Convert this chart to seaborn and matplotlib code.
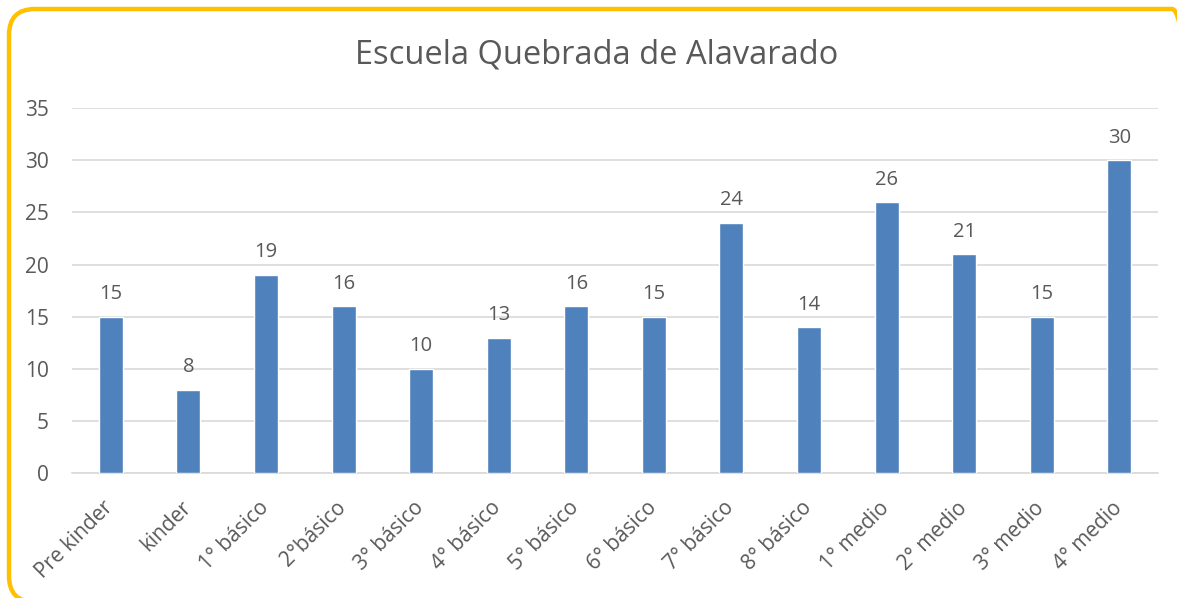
import matplotlib
matplotlib.use("Agg")
import pandas as pd
import seaborn as sns
from matplotlib import pyplot as plt
from matplotlib.patches import FancyBboxPatch
from matplotlib.transforms import IdentityTransform, ScaledTranslation

# chart data
grades = ['Pre kinder', 'kinder', '1° básico', '2°básico', '3° básico', '4° básico',
          '5° básico', '6° básico', '7° básico', '8° básico', '1° medio', '2° medio',
          '3° medio', '4° medio']
students = [15, 8, 19, 16, 10, 13, 16, 15, 24, 14, 26, 21, 15, 30]
yticks = [0, 5, 10, 15, 20, 25, 30, 35]

df = pd.DataFrame({'grade': grades, 'students': students})

sns.set_theme(style='white')
plt.rcParams['font.family'] = ['Open Sans', 'DejaVu Sans']

TEXT = '#595959'
fig = plt.figure(figsize=(11.77, 5.98), dpi=100)
ax = fig.add_axes([0.0612, 0.209, 0.9228, 0.610])

sns.barplot(data=df, x='grade', y='students', color='#4F81BD', width=0.31,
            saturation=1, ax=ax, zorder=3)

for i, v in enumerate(students):
    ax.text(i, v + 1.2, str(v), ha='center', va='bottom', fontsize=14.5, color=TEXT)

ax.set_ylim(0, 35)
ax.set_xlim(-0.5, len(grades) - 0.5)
ax.set_yticks(yticks)
ax.yaxis.grid(True, color='#D9D9D9', linewidth=1.2, zorder=0)
ax.tick_params(axis='y', length=0, labelsize=15, labelcolor=TEXT, pad=16.5)
ax.tick_params(axis='x', length=0, labelsize=15, labelcolor=TEXT, pad=6)
# shift the rotated labels a bit left and down, like the original
shift = ScaledTranslation(-8 / 100, -16 / 100, fig.dpi_scale_trans)
for lbl in ax.get_xticklabels():
    lbl.set_rotation(45)
    lbl.set_ha('right')
    lbl.set_rotation_mode('anchor')
    lbl.set_transform(lbl.get_transform() + shift)
ax.set_xlabel('')
ax.set_ylabel('')
for s in ['top', 'right', 'left']:
    ax.spines[s].set_visible(False)
ax.spines['bottom'].set_color('#D9D9D9')
ax.spines['bottom'].set_linewidth(1.2)

fig.text(0.507, 0.908, 'Escuela Quebrada de Alavarado', ha='center', va='center',
         fontsize=23.5, color=TEXT)

# rounded gold frame, in pixels (right and bottom sides run off the canvas)
frame = FancyBboxPatch((9, -4), 1189, 593,
                       boxstyle='round,pad=0,rounding_size=26',
                       transform=IdentityTransform(), fill=False,
                       edgecolor='#FFC000', linewidth=3.2)
fig.patches.append(frame)

fig.savefig('out.png', dpi=100)
